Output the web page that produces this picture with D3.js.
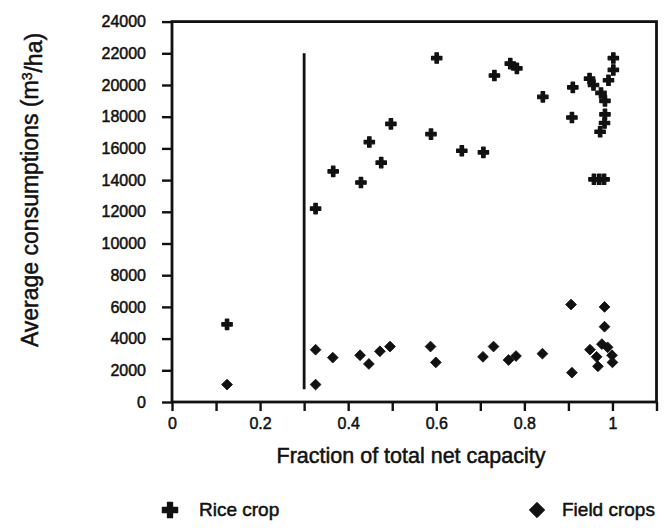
<!DOCTYPE html>
<html>
<head>
<meta charset="utf-8">
<script src="https://cdn.jsdelivr.net/npm/d3@7"></script>
<style>
  body { margin: 0; background: #fff; }
  text { font-family: "Liberation Sans", Arial, sans-serif; fill: #111; stroke: #111; stroke-width: 0.5px; }
</style>
</head>
<body>
<div id="chart"></div>
<script>
// data: [fraction of net capacity, m3/ha]
const riceCrop = [
  [0.125, 4900], [0.326, 12200], [0.366, 14550], [0.429, 13850], [0.448, 16400],
  [0.475, 15100], [0.497, 17550], [0.588, 16900], [0.601, 21700], [0.658, 15850],
  [0.707, 15750], [0.732, 20600], [0.768, 21350], [0.783, 21050], [0.842, 19250],
  [0.908, 17950], [0.910, 19850], [0.948, 20400], [0.957, 20000], [0.958, 14050],
  [0.970, 14050], [0.972, 17050], [0.974, 19500], [0.981, 14050], [0.982, 17600],
  [0.983, 18150], [0.983, 19000], [0.991, 20300], [1.002, 20950], [1.002, 21700]
];
const fieldCrops = [
  [0.125, 1100], [0.326, 3300], [0.326, 1100], [0.365, 2800], [0.427, 2950],
  [0.447, 2400], [0.472, 3200], [0.495, 3500], [0.587, 3500], [0.599, 2500],
  [0.706, 2850], [0.730, 3500], [0.764, 2650], [0.781, 2900], [0.841, 3050],
  [0.906, 6150], [0.908, 1850], [0.949, 3300], [0.964, 2850], [0.967, 2250],
  [0.976, 3650], [0.982, 6000], [0.982, 4750], [0.989, 3450], [0.999, 2950],
  [1.000, 2500]
];
const capacityLine = [[0.3, 800], [0.3, 22000]];
const xTicks = [0, 0.1, 0.2, 0.3, 0.4, 0.5, 0.6, 0.7, 0.8, 0.9, 1, 1.1];
const xLabels = [0, 0.2, 0.4, 0.6, 0.8, 1];
const yTicks = d3.range(0, 24001, 2000);
const legendLabels = ["Rice crop", "Field crops"];

const W = 664, H = 531;
const margin = {top: 21.6, right: 7.5, bottom: 129, left: 172};

const svg = d3.select("#chart").append("svg")
    .attr("width", W)
    .attr("height", H);

const x = d3.scaleLinear().domain([0, 1.1]).range([margin.left, W - margin.right]);
const y = d3.scaleLinear().domain([0, 24000]).range([H - margin.bottom, margin.top]);

// axes
const xAxis = svg.append("g")
    .attr("transform", "translate(0," + y(0) + ")")
    .call(d3.axisBottom(x).tickValues(xTicks).tickSize(9).tickPadding(7)
      .tickFormat(d => xLabels.some(v => Math.abs(v - d) < 1e-9) ? d3.format("")(+d.toFixed(1)) : ""));
const yAxis = svg.append("g")
    .attr("transform", "translate(" + x(0) + ",0)")
    .call(d3.axisLeft(y).tickValues(yTicks).tickSize(10).tickPadding(16).tickFormat(d3.format("d")));

[xAxis, yAxis].forEach(g => {
  g.select(".domain").remove();
  g.selectAll(".tick line").attr("stroke", "#111").attr("stroke-width", 2.4);
  g.selectAll(".tick text").style("font-size", "16px");
});

// frame
svg.append("rect")
    .attr("x", x(0)).attr("y", y(24000))
    .attr("width", x(1.1) - x(0)).attr("height", y(0) - y(24000))
    .attr("fill", "none").attr("stroke", "#111").attr("stroke-width", 2.8);

// vertical boundary line
svg.append("path")
    .datum(capacityLine)
    .attr("d", d3.line().x(d => x(d[0])).y(d => y(d[1])))
    .attr("stroke", "#111").attr("stroke-width", 2.8).attr("fill", "none");

const cross = d3.symbol().type(d3.symbolCross);
const diamond = d3.symbol().type(d3.symbolSquare);

svg.append("g").selectAll("path")
    .data(riceCrop)
    .join("path")
    .attr("transform", d => "translate(" + x(d[0]) + "," + y(d[1]) + ")")
    .attr("d", cross.size(60))
    .attr("fill", "#111").attr("stroke", "#111").attr("stroke-width", 1.2).attr("stroke-linejoin", "round");

svg.append("g").selectAll("path")
    .data(fieldCrops)
    .join("path")
    .attr("transform", d => "translate(" + x(d[0]) + "," + y(d[1]) + ") rotate(45)")
    .attr("d", diamond.size(58))
    .attr("fill", "#111").attr("stroke", "#111").attr("stroke-width", 0.8);

// axis titles
svg.append("text")
    .attr("x", 411).attr("y", 463)
    .attr("text-anchor", "middle")
    .style("font-size", "21.5px")
    .text("Fraction of total net capacity");

const yTitle = svg.append("text")
    .attr("transform", "translate(38,190) rotate(-90)")
    .attr("text-anchor", "middle")
    .style("font-size", "23px");
yTitle.append("tspan").text("Average consumptions (m");
yTitle.append("tspan").attr("dy", "-0.45em").style("font-size", "14px").text("3");
yTitle.append("tspan").attr("dy", "0.45em").text("/ha)");

// legend
const legend = svg.append("g");
legend.append("path")
    .attr("transform", "translate(170,510)")
    .attr("d", cross.size(130))
    .attr("fill", "#111").attr("stroke", "#111").attr("stroke-width", 1.2).attr("stroke-linejoin", "round");
legend.append("text")
    .attr("x", 199).attr("y", 516)
    .style("font-size", "19px")
    .text(legendLabels[0]);
legend.append("path")
    .attr("transform", "translate(537,510) rotate(45)")
    .attr("d", diamond.size(120))
    .attr("fill", "#111").attr("stroke", "#111").attr("stroke-width", 0.8);
legend.append("text")
    .attr("x", 562).attr("y", 516)
    .style("font-size", "19px")
    .text(legendLabels[1]);
</script>
</body>
</html>
